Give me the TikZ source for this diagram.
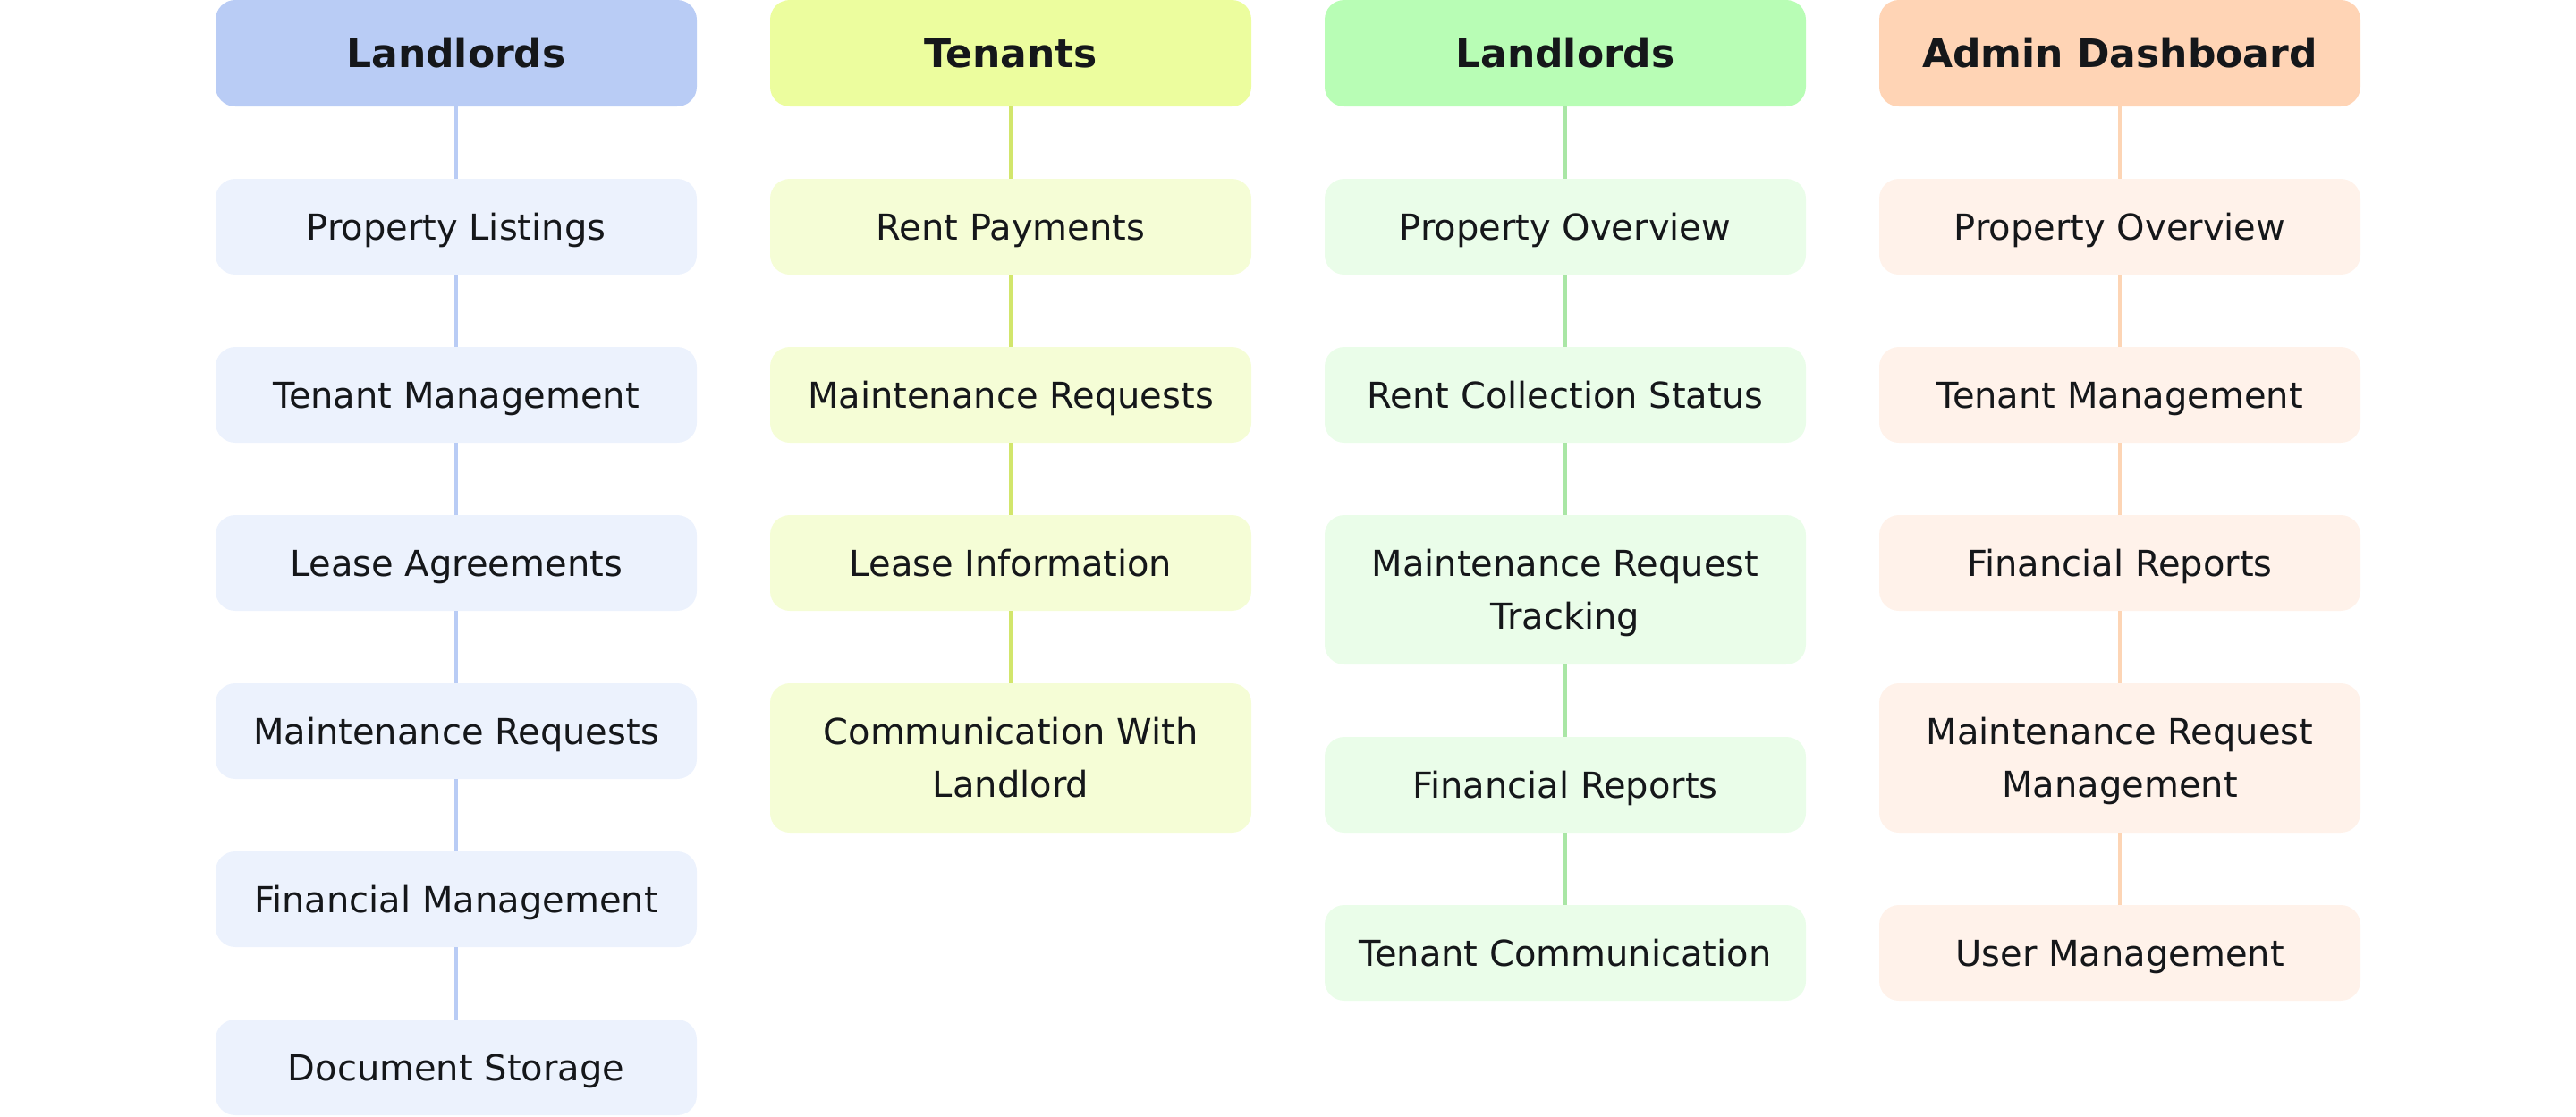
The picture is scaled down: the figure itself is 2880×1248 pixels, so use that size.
\documentclass[tikz,border=0pt]{standalone}
\usepackage{fontspec}
\setmainfont{DejaVu Sans}
\definecolor{txt}{HTML}{15171A}
\definecolor{hA}{HTML}{B9CCF5}\definecolor{iA}{HTML}{ECF2FD}\definecolor{lA}{HTML}{B9CCF5}
\definecolor{hB}{HTML}{ECFD9E}\definecolor{iB}{HTML}{F5FDD6}\definecolor{lB}{HTML}{D2E66C}
\definecolor{hC}{HTML}{B8FDB5}\definecolor{iC}{HTML}{EAFDE9}\definecolor{lC}{HTML}{A9E6A5}
\definecolor{hD}{HTML}{FFD4B5}\definecolor{iD}{HTML}{FFF2EA}\definecolor{lD}{HTML}{FDD5B5}
\tikzset{
  box/.style={rectangle, rounded corners=22pt, minimum width=538pt, inner sep=0pt, text=txt, align=center, text depth=0pt},
  headbox/.style={box, minimum height=119pt, font=\fontsize{44}{58}\selectfont\bfseries, text height=32.1pt},
  itembox/.style={box, minimum height=107pt, font=\fontsize{40}{59}\selectfont, text height=29.2pt},
  tallbox/.style={box, minimum height=167pt, font=\fontsize{40}{59}\selectfont, text height=88.2pt},
  conn/.style={line width=3.5pt}
}
\begin{document}
\begin{tikzpicture}[x=1pt,y=1pt]
\useasboundingbox (0,0) rectangle (2880,-1248);
% Column 1
\node[headbox, fill=hA] (a0) at (510,-59.5) {Landlords};
\node[itembox, fill=iA] (a1) at (510,-253.5) {Property Listings};
\node[itembox, fill=iA] (a2) at (510,-441.5) {Tenant Management};
\node[itembox, fill=iA] (a3) at (510,-629.5) {Lease Agreements};
\node[itembox, fill=iA] (a4) at (510,-817.5) {Maintenance Requests};
\node[itembox, fill=iA] (a5) at (510,-1005.5) {Financial Management};
\node[itembox, fill=iA] (a6) at (510,-1193.5) {Document Storage};
\foreach \p/\q in {a0/a1,a1/a2,a2/a3,a3/a4,a4/a5,a5/a6}
  \draw[conn, draw=lA] (\p.south) -- (\q.north);
% Column 2
\node[headbox, fill=hB] (b0) at (1130,-59.5) {Tenants};
\node[itembox, fill=iB] (b1) at (1130,-253.5) {Rent Payments};
\node[itembox, fill=iB] (b2) at (1130,-441.5) {Maintenance Requests};
\node[itembox, fill=iB] (b3) at (1130,-629.5) {Lease Information};
\node[tallbox, fill=iB] (b4) at (1130,-847.5) {Communication With\\Landlord};
\foreach \p/\q in {b0/b1,b1/b2,b2/b3,b3/b4}
  \draw[conn, draw=lB] (\p.south) -- (\q.north);
% Column 3
\node[headbox, fill=hC] (c0) at (1750,-59.5) {Landlords};
\node[itembox, fill=iC] (c1) at (1750,-253.5) {Property Overview};
\node[itembox, fill=iC] (c2) at (1750,-441.5) {Rent Collection Status};
\node[tallbox, fill=iC] (c3) at (1750,-659.5) {Maintenance Request\\Tracking};
\node[itembox, fill=iC] (c4) at (1750,-877.5) {Financial Reports};
\node[itembox, fill=iC] (c5) at (1750,-1065.5) {Tenant Communication};
\foreach \p/\q in {c0/c1,c1/c2,c2/c3,c3/c4,c4/c5}
  \draw[conn, draw=lC] (\p.south) -- (\q.north);
% Column 4
\node[headbox, fill=hD] (d0) at (2370,-59.5) {Admin Dashboard};
\node[itembox, fill=iD] (d1) at (2370,-253.5) {Property Overview};
\node[itembox, fill=iD] (d2) at (2370,-441.5) {Tenant Management};
\node[itembox, fill=iD] (d3) at (2370,-629.5) {Financial Reports};
\node[tallbox, fill=iD] (d4) at (2370,-847.5) {Maintenance Request\\Management};
\node[itembox, fill=iD] (d5) at (2370,-1065.5) {User Management};
\foreach \p/\q in {d0/d1,d1/d2,d2/d3,d3/d4,d4/d5}
  \draw[conn, draw=lD] (\p.south) -- (\q.north);
\end{tikzpicture}
\end{document}
